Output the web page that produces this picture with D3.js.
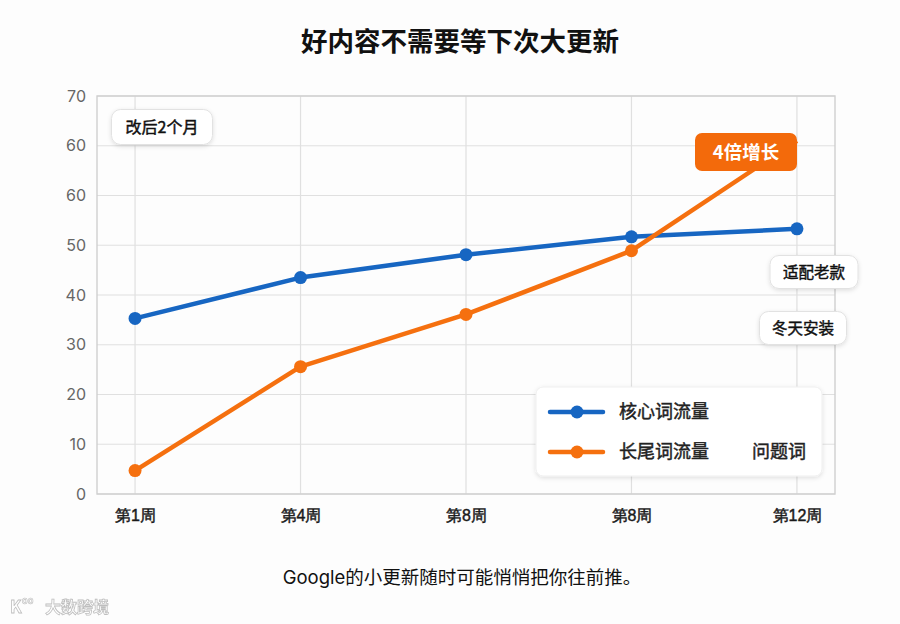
<!DOCTYPE html>
<html>
<head>
<meta charset="utf-8">
<script src="https://cdn.jsdelivr.net/npm/d3@7"></script>
<style>
  html, body { margin: 0; padding: 0; background: #fdfdfd; }
  svg { display: block; font-family: "Noto Sans CJK SC", "Noto Sans", sans-serif; }
  .medium { paint-order: stroke; stroke-width: 0.45px; }
</style>
</head>
<body>
<div id="chart"></div>
<script>
// Chart data
const weeks = ["第1周", "第4周", "第8周", "第8周", "第12周"];
const yTickLabels = ["0", "10", "20", "30", "40", "50", "60", "60", "70"];
const coreTraffic = [35.3, 43.5, 48.1, 51.7, 53.3];
const longTailTraffic = [4.7, 25.6, 36.1, 48.9, 71];
const seriesNames = ["核心词流量", "长尾词流量"];
const seriesColors = ["#1766c2", "#f5700f"];

const WIDTH = 900;
const HEIGHT = 624;
const margin = { top: 96, right: 65, bottom: 130, left: 97 };

const svg = d3
  .select("#chart")
  .append("svg")
  .attr("width", WIDTH)
  .attr("height", HEIGHT);

// soft shadow for the label boxes
const defs = svg.append("defs");
const shadow = defs.append("filter").attr("id", "shadow")
  .attr("x", "-20%").attr("y", "-30%").attr("width", "140%").attr("height", "170%");
shadow.append("feDropShadow")
  .attr("dx", 0).attr("dy", 1.5).attr("stdDeviation", 2)
  .attr("flood-color", "#000").attr("flood-opacity", 0.12);

const x = d3
  .scalePoint()
  .domain(d3.range(weeks.length))
  .range([margin.left, WIDTH - margin.right])
  .padding(0.23);

const y = d3
  .scaleLinear()
  .domain([0, 80])
  .range([HEIGHT - margin.bottom, margin.top]);

// Title
svg.append("text")
  .attr("x", 460).attr("y", 51)
  .attr("text-anchor", "middle")
  .attr("font-size", 26.5).attr("font-weight", 700).attr("fill", "#111")
  .text("好内容不需要等下次大更新");

// Grid
const yTicks = d3.range(0, 81, 10);
svg.append("g")
  .selectAll("line")
  .data(yTicks)
  .join("line")
  .attr("x1", margin.left).attr("x2", WIDTH - margin.right)
  .attr("y1", (d) => y(d)).attr("y2", (d) => y(d))
  .attr("stroke", "#e0e0e0").attr("stroke-width", 1.2);

svg.append("g")
  .selectAll("line")
  .data(x.domain())
  .join("line")
  .attr("x1", (d) => x(d)).attr("x2", (d) => x(d))
  .attr("y1", margin.top).attr("y2", HEIGHT - margin.bottom)
  .attr("stroke", "#e0e0e0").attr("stroke-width", 1.2);

// Frame
svg.append("rect")
  .attr("x", margin.left).attr("y", margin.top)
  .attr("width", WIDTH - margin.right - margin.left)
  .attr("height", HEIGHT - margin.bottom - margin.top)
  .attr("fill", "none").attr("stroke", "#cfcfcf").attr("stroke-width", 1.4);

// Axes
const yAxis = svg.append("g")
  .attr("transform", `translate(${margin.left},0)`)
  .call(d3.axisLeft(y).tickValues(yTicks).tickSize(0).tickPadding(11)
    .tickFormat((d, i) => yTickLabels[i]));
yAxis.select(".domain").remove();
yAxis.selectAll("text")
  .attr("font-size", 16).attr("fill", "#666")
  .style("font-family", "Inter, 'Noto Sans', sans-serif");

const xAxis = svg.append("g")
  .attr("transform", `translate(0,${HEIGHT - margin.bottom})`)
  .call(d3.axisBottom(x).tickSize(0).tickPadding(16)
    .tickFormat((d) => weeks[d]));
xAxis.select(".domain").remove();
xAxis.selectAll("text")
  .attr("class", "medium")
  .attr("font-size", 16).attr("fill", "#1a1a1a").attr("stroke", "#1a1a1a");

// Lines
const line = d3.line().x((d, i) => x(i)).y((d) => y(d));
const series = [coreTraffic, longTailTraffic];

series.forEach((values, s) => {
  svg.append("path")
    .datum(values)
    .attr("d", line)
    .attr("fill", "none")
    .attr("stroke", seriesColors[s])
    .attr("stroke-width", 4.5)
    .attr("stroke-linejoin", "round");

  // the last orange point sits under the badge
  const shown = s === 1 ? values.slice(0, -1) : values;
  svg.append("g")
    .selectAll("circle")
    .data(shown)
    .join("circle")
    .attr("cx", (d, i) => x(i))
    .attr("cy", (d) => y(d))
    .attr("r", 6.5)
    .attr("fill", seriesColors[s]);
});

// Label boxes
function labelBox(cx, cy, w, h, text, size) {
  const g = svg.append("g");
  g.append("rect")
    .attr("x", cx - w / 2).attr("y", cy - h / 2)
    .attr("width", w).attr("height", h)
    .attr("rx", 9)
    .attr("fill", "#fff").attr("stroke", "#e2e2e2")
    .attr("filter", "url(#shadow)");
  g.append("text")
    .attr("class", "medium")
    .attr("x", cx).attr("y", cy)
    .attr("dy", "0.36em")
    .attr("text-anchor", "middle")
    .attr("font-size", size).attr("fill", "#111").attr("stroke", "#111")
    .text(text);
}

labelBox(162, 127, 101, 35, "改后2个月", 16);
labelBox(814, 272, 88, 33, "适配老款", 15.5);
labelBox(803, 328, 87, 33, "冬天安装", 15.5);

// Highlight badge at the end of the orange line
const badge = svg.append("g");
badge.append("rect")
  .attr("x", 695).attr("y", 133)
  .attr("width", 102).attr("height", 38)
  .attr("rx", 7)
  .attr("fill", "#f36a0b");
badge.append("text")
  .attr("x", 746).attr("y", 152)
  .attr("dy", "0.36em")
  .attr("text-anchor", "middle")
  .attr("font-size", 18.5).attr("font-weight", 700).attr("fill", "#fff")
  .text("4倍增长");

// Legend
const legend = svg.append("g");
legend.append("rect")
  .attr("x", 536).attr("y", 387)
  .attr("width", 286).attr("height", 89)
  .attr("rx", 7)
  .attr("fill", "#fff").attr("stroke", "#efefef")
  .attr("filter", "url(#shadow)");

const legendRows = legend.selectAll(".legendItem")
  .data(seriesNames)
  .join("g")
  .attr("class", "legendItem")
  .attr("transform", (d, i) => `translate(0, ${412 + i * 40})`);

legendRows.append("line")
  .attr("x1", 550).attr("x2", 603)
  .attr("stroke", (d, i) => seriesColors[i])
  .attr("stroke-width", 4.5).attr("stroke-linecap", "round");
legendRows.append("circle")
  .attr("cx", 577).attr("r", 6.5)
  .attr("fill", (d, i) => seriesColors[i]);
legendRows.append("text")
  .attr("class", "medium")
  .attr("x", 619).attr("dy", "0.36em")
  .attr("font-size", 18).attr("fill", "#222").attr("stroke", "#222")
  .text((d) => d);

legend.append("text")
  .attr("class", "medium")
  .attr("x", 752).attr("y", 452).attr("dy", "0.36em")
  .attr("font-size", 18).attr("fill", "#222").attr("stroke", "#222")
  .text("问题词");

// Caption
svg.append("text")
  .attr("x", 462).attr("y", 584)
  .attr("text-anchor", "middle")
  .attr("font-size", 18.5).attr("fill", "#111")
  .style("font-family", "Inter, 'Noto Sans CJK SC', sans-serif")
  .text("Google的小更新随时可能悄悄把你往前推。");

// Watermark
const mark = svg.append("g").attr("opacity", 0.9);
mark.append("text")
  .attr("x", 10).attr("y", 613)
  .attr("font-size", 17).attr("font-weight", 700)
  .attr("fill", "#fff").attr("stroke", "#b8b8b8").attr("stroke-width", 0.8)
  .text("K");
mark.append("text")
  .attr("x", 22).attr("y", 604)
  .attr("font-size", 9).attr("font-weight", 700)
  .attr("fill", "#fff").attr("stroke", "#b8b8b8").attr("stroke-width", 0.6)
  .text("oo");
mark.append("text")
  .attr("x", 45).attr("y", 613)
  .attr("font-size", 16).attr("font-weight", 700)
  .attr("fill", "#fff").attr("stroke", "#b8b8b8").attr("stroke-width", 0.8)
  .text("大数跨境");
</script>
</body>
</html>
